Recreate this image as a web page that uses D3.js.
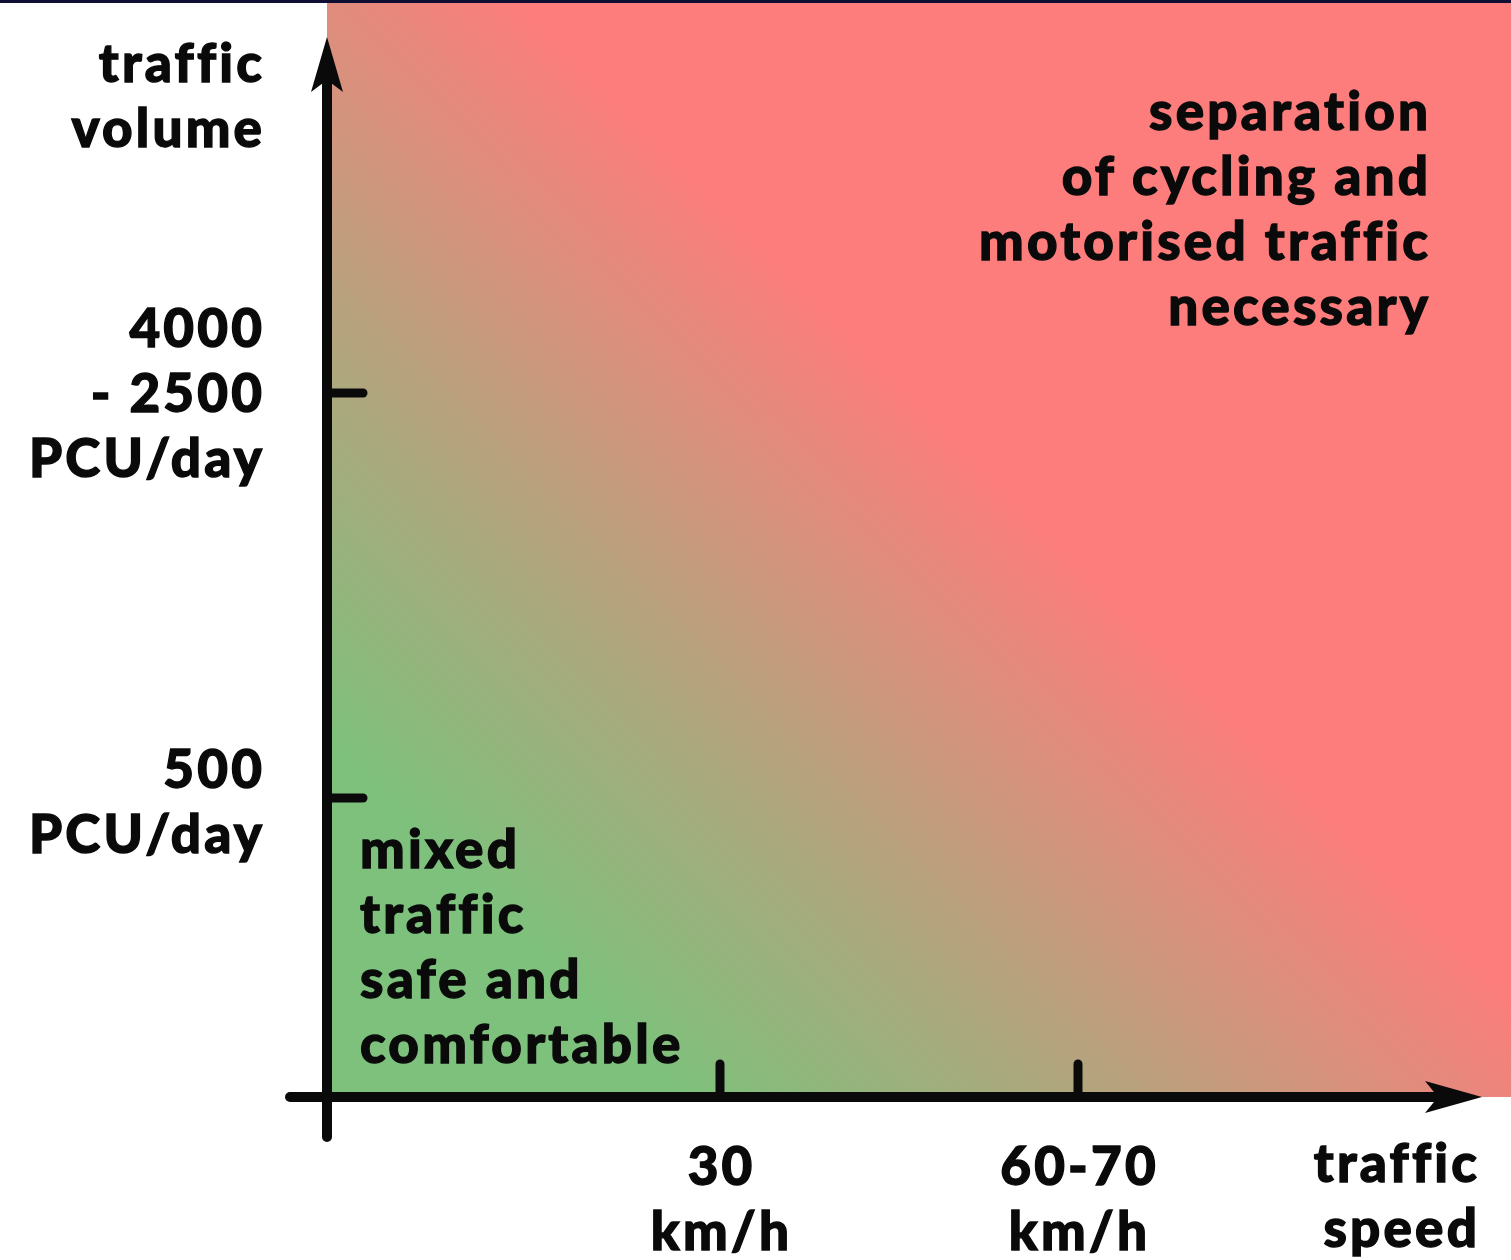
<!DOCTYPE html>
<html>
<head>
<meta charset="utf-8">
<script src="https://cdn.jsdelivr.net/npm/d3@7"></script>
<style>
  html, body { margin: 0; padding: 0; background: #ffffff; }
  svg { display: block; }
  text { font-family: "Lato", "DejaVu Sans", sans-serif; font-weight: 900; fill: #0a0a0a;
         stroke: #0a0a0a; stroke-width: 1.3px; font-variant-ligatures: none; letter-spacing: 3.2px; }
</style>
</head>
<body>
<div id="chart"></div>
<script>
// ---- data ----
const speedKnots = [0, 30, 65, 100];          // km/h (conceptual axis positions)
const volumeKnots = [0, 500, 3250, 6000];     // PCU/day (conceptual axis positions)
const speedTicks = [30, 65];
const speedTickLabels = [["30", "km/h"], ["60-70", "km/h"]];
const volumeTicks = [500, 3250];
const volumeTickLabels = [["500", "PCU/day"], ["4000", "- 2500", "PCU/day"]];
const yAxisTitle = ["traffic", "volume"];
const xAxisTitle = ["traffic", "speed"];
const zoneLow = ["mixed", "traffic", "safe and", "comfortable"];
const zoneHigh = ["separation", "of cycling and", "motorised traffic", "necessary"];
const zoneColors = ["#7dc17c", "#b9a17e", "#fd7d7c"];

// ---- layout ----
const W = 1511, H = 1260;
const fs = 53, lh = 65, ls = 3.2;

const svg = d3.select("#chart").append("svg").attr("width", W).attr("height", H);

// piecewise linear scales
const x = d3.scaleLinear().domain(speedKnots).range([327, 720, 1078, 1482]);
const y = d3.scaleLinear().domain(volumeKnots).range([1097, 798, 393, 37]);

// top band
svg.append("rect").attr("x", 0).attr("y", 0).attr("width", W).attr("height", 3).attr("fill", "#100d35");

// gradient
const defs = svg.append("defs");
const g0 = [x(0) + 175, y(0) - 175], g1 = [x(0) + 645, y(0) - 645];
const grad = defs.append("linearGradient").attr("id", "zone")
  .attr("gradientUnits", "userSpaceOnUse")
  .attr("x1", g0[0]).attr("y1", g0[1]).attr("x2", g1[0]).attr("y2", g1[1]);
zoneColors.forEach((c, i) => grad.append("stop").attr("offset", i / (zoneColors.length - 1)).attr("stop-color", c));

svg.append("rect")
  .attr("x", x(0)).attr("y", 3)
  .attr("width", W - x(0)).attr("height", y(0) - 3)
  .attr("fill", "url(#zone)");

// axes
const axisG = svg.append("g").attr("stroke", "#0a0a0a").attr("fill", "none");
axisG.append("line").attr("x1", 290).attr("x2", x(100) - 45).attr("y1", y(0)).attr("y2", y(0))
  .attr("stroke-width", 10).attr("stroke-linecap", "round");
axisG.append("line").attr("x1", x(0)).attr("x2", x(0)).attr("y1", 1137).attr("y2", y(6000) + 45)
  .attr("stroke-width", 10).attr("stroke-linecap", "round");

// arrowheads
const tipX = x(100), ay = y(0);
svg.append("path").attr("fill", "#0a0a0a")
  .attr("d", `M${tipX},${ay} L${tipX - 57},${ay - 16} L${tipX - 44},${ay} L${tipX - 57},${ay + 16} Z`);
const tipY = y(6000), ax = x(0);
svg.append("path").attr("fill", "#0a0a0a")
  .attr("d", `M${ax},${tipY} L${ax - 16},${tipY + 55} L${ax},${tipY + 43} L${ax + 16},${tipY + 55} Z`);

// ticks
axisG.selectAll(".yt").data(volumeTicks).join("line")
  .attr("x1", x(0)).attr("x2", x(0) + 36).attr("y1", d => y(d)).attr("y2", d => y(d))
  .attr("stroke-width", 9).attr("stroke-linecap", "round");
axisG.selectAll(".xt").data(speedTicks).join("line")
  .attr("x1", d => x(d)).attr("x2", d => x(d)).attr("y1", y(0)).attr("y2", y(0) - 33)
  .attr("stroke-width", 9).attr("stroke-linecap", "round");

function block(lines, xPos, firstBaseline, anchor) {
  // compensate trailing letter-spacing
  const shift = anchor === "end" ? ls : anchor === "middle" ? ls / 2 : 0;
  const t = svg.append("text").attr("font-size", fs).attr("text-anchor", anchor);
  lines.forEach((s, i) => t.append("tspan").attr("x", xPos + shift).attr("y", firstBaseline + i * lh).text(s));
  return t;
}

// y tick labels
volumeTicks.forEach((v, i) => {
  const lines = volumeTickLabels[i];
  const first = i === 0 ? y(v) - 10 : y(v) - 46;
  block(lines, 262, first, "end");
});
// x tick labels
speedTicks.forEach((v, i) => block(speedTickLabels[i], x(v), 1185, "middle"));

// axis titles
block(yAxisTitle, 262, 82, "end");
block(xAxisTitle, 1477, 1182, "end");

// zone labels
block(zoneLow, 360, 868, "start");
block(zoneHigh, 1428, 130, "end");
</script>
</body>
</html>
